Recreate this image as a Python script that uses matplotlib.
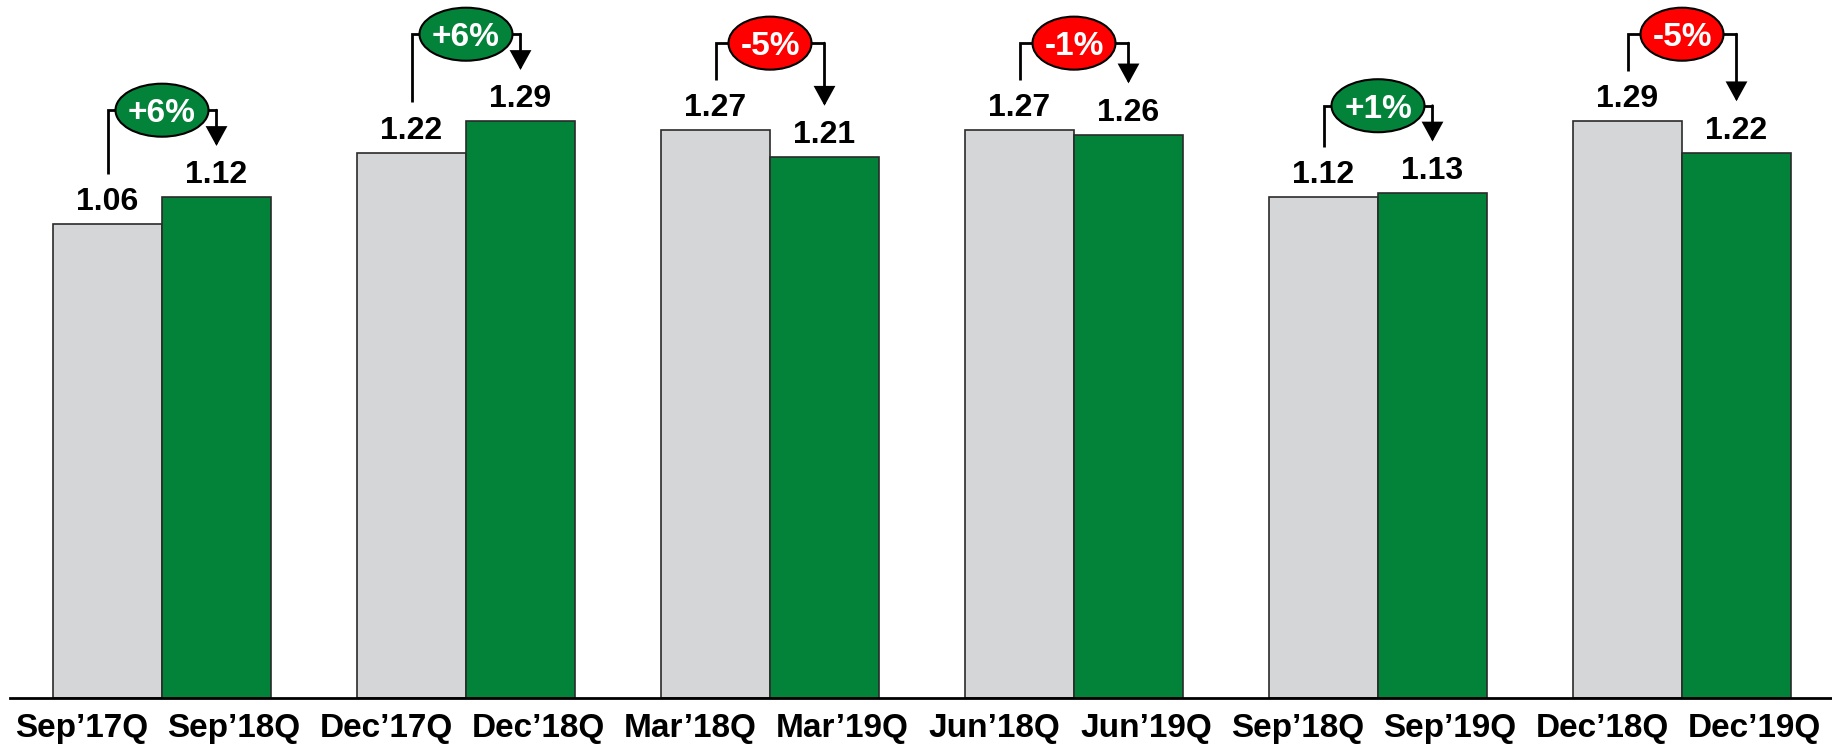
import matplotlib
matplotlib.use('Agg')
import matplotlib.pyplot as plt
from matplotlib.patches import Ellipse

plt.rcParams['font.family'] = ['Liberation Sans', 'DejaVu Sans']
plt.rcParams['font.weight'] = 'bold'

# quarter values, previous year vs current year
prev_labels = ["Sep’17Q", "Dec’17Q", "Mar’18Q", "Jun’18Q", "Sep’18Q", "Dec’18Q"]
curr_labels = ["Sep’18Q", "Dec’18Q", "Mar’19Q", "Jun’19Q", "Sep’19Q", "Dec’19Q"]
prev_values = [1.06, 1.22, 1.27, 1.27, 1.12, 1.29]
curr_values = [1.12, 1.29, 1.21, 1.26, 1.13, 1.22]
changes = ["+6%", "+6%", "-5%", "-1%", "+1%", "-5%"]

GRAY = '#D5D6D8'
GREEN = '#03823A'
RED = '#FF0000'
EDGE = '#2b2b2b'

W, H = 1832, 747
fig = plt.figure(figsize=(W / 100, H / 100), dpi=100)
# axes: baseline at 49px from bottom, left edge at 10px
ax = fig.add_axes([10 / W, 49 / H, 1 - 10 / W, 1 - 49 / H])

largura = 109 / 304
n = len(prev_values)
xs_prev = [i - largura / 2 for i in range(n)]
xs_curr = [i + largura / 2 for i in range(n)]

ax.bar(xs_prev, prev_values, width=largura, color=GRAY, edgecolor=EDGE, linewidth=1.2, zorder=2)
ax.bar(xs_curr, curr_values, width=largura, color=GREEN, edgecolor=EDGE, linewidth=1.2, zorder=2)

for x, v in zip(xs_prev + xs_curr, prev_values + curr_values):
    ax.annotate(f"{v:.2f}", xy=(x, v), xytext=(0, 5), textcoords='offset points',
                ha='center', va='bottom', fontsize=23, fontweight='bold', color='black')

for i in range(n):
    xa, xb = xs_prev[i], xs_curr[i]
    va, vb = prev_values[i], curr_values[i]
    topo = max(va, vb) + 0.195
    ax.plot([xa, xa, xb], [va + 0.113, topo, topo], color='black', lw=2,
            solid_capstyle='butt', solid_joinstyle='miter', zorder=3)
    ax.annotate('', xy=(xb, vb + 0.115), xytext=(xb, topo),
                arrowprops=dict(arrowstyle='-|>,head_length=0.4,head_width=0.22',
                                mutation_scale=28, lw=2, color='black',
                                shrinkA=0, shrinkB=0, joinstyle='miter'),
                zorder=3)
    positivo = changes[i].startswith('+')
    cor = GREEN if positivo else RED
    larg_el = (93 if positivo else 83) / 304
    ax.add_patch(Ellipse((i, topo), larg_el, 53 / 447, facecolor=cor,
                         edgecolor='black', lw=1.5, zorder=4))
    ax.text(i, topo, changes[i], ha='center', va='center_baseline', fontsize=24,
            fontweight='bold', color='white', zorder=5)

# category labels sit a bit wider apart than the bars
ticks = []
labels = []
for i in range(n):
    ticks += [i - 80 / 304, i + 72 / 304]
    labels += [prev_labels[i], curr_labels[i]]
ax.set_xticks(ticks)
ax.set_xticklabels(labels, fontsize=24, fontweight='bold')
ax.tick_params(axis='x', length=0, pad=11)
ax.set_yticks([])

ax.set_xlim(-0.5, (W - 162) / 304)
ax.set_ylim(0, 698 / 447)
for lado in ['top', 'right', 'left']:
    ax.spines[lado].set_visible(False)
ax.spines['bottom'].set_linewidth(2)
ax.spines['bottom'].set_color('black')

fig.savefig('out.png', dpi=100)
